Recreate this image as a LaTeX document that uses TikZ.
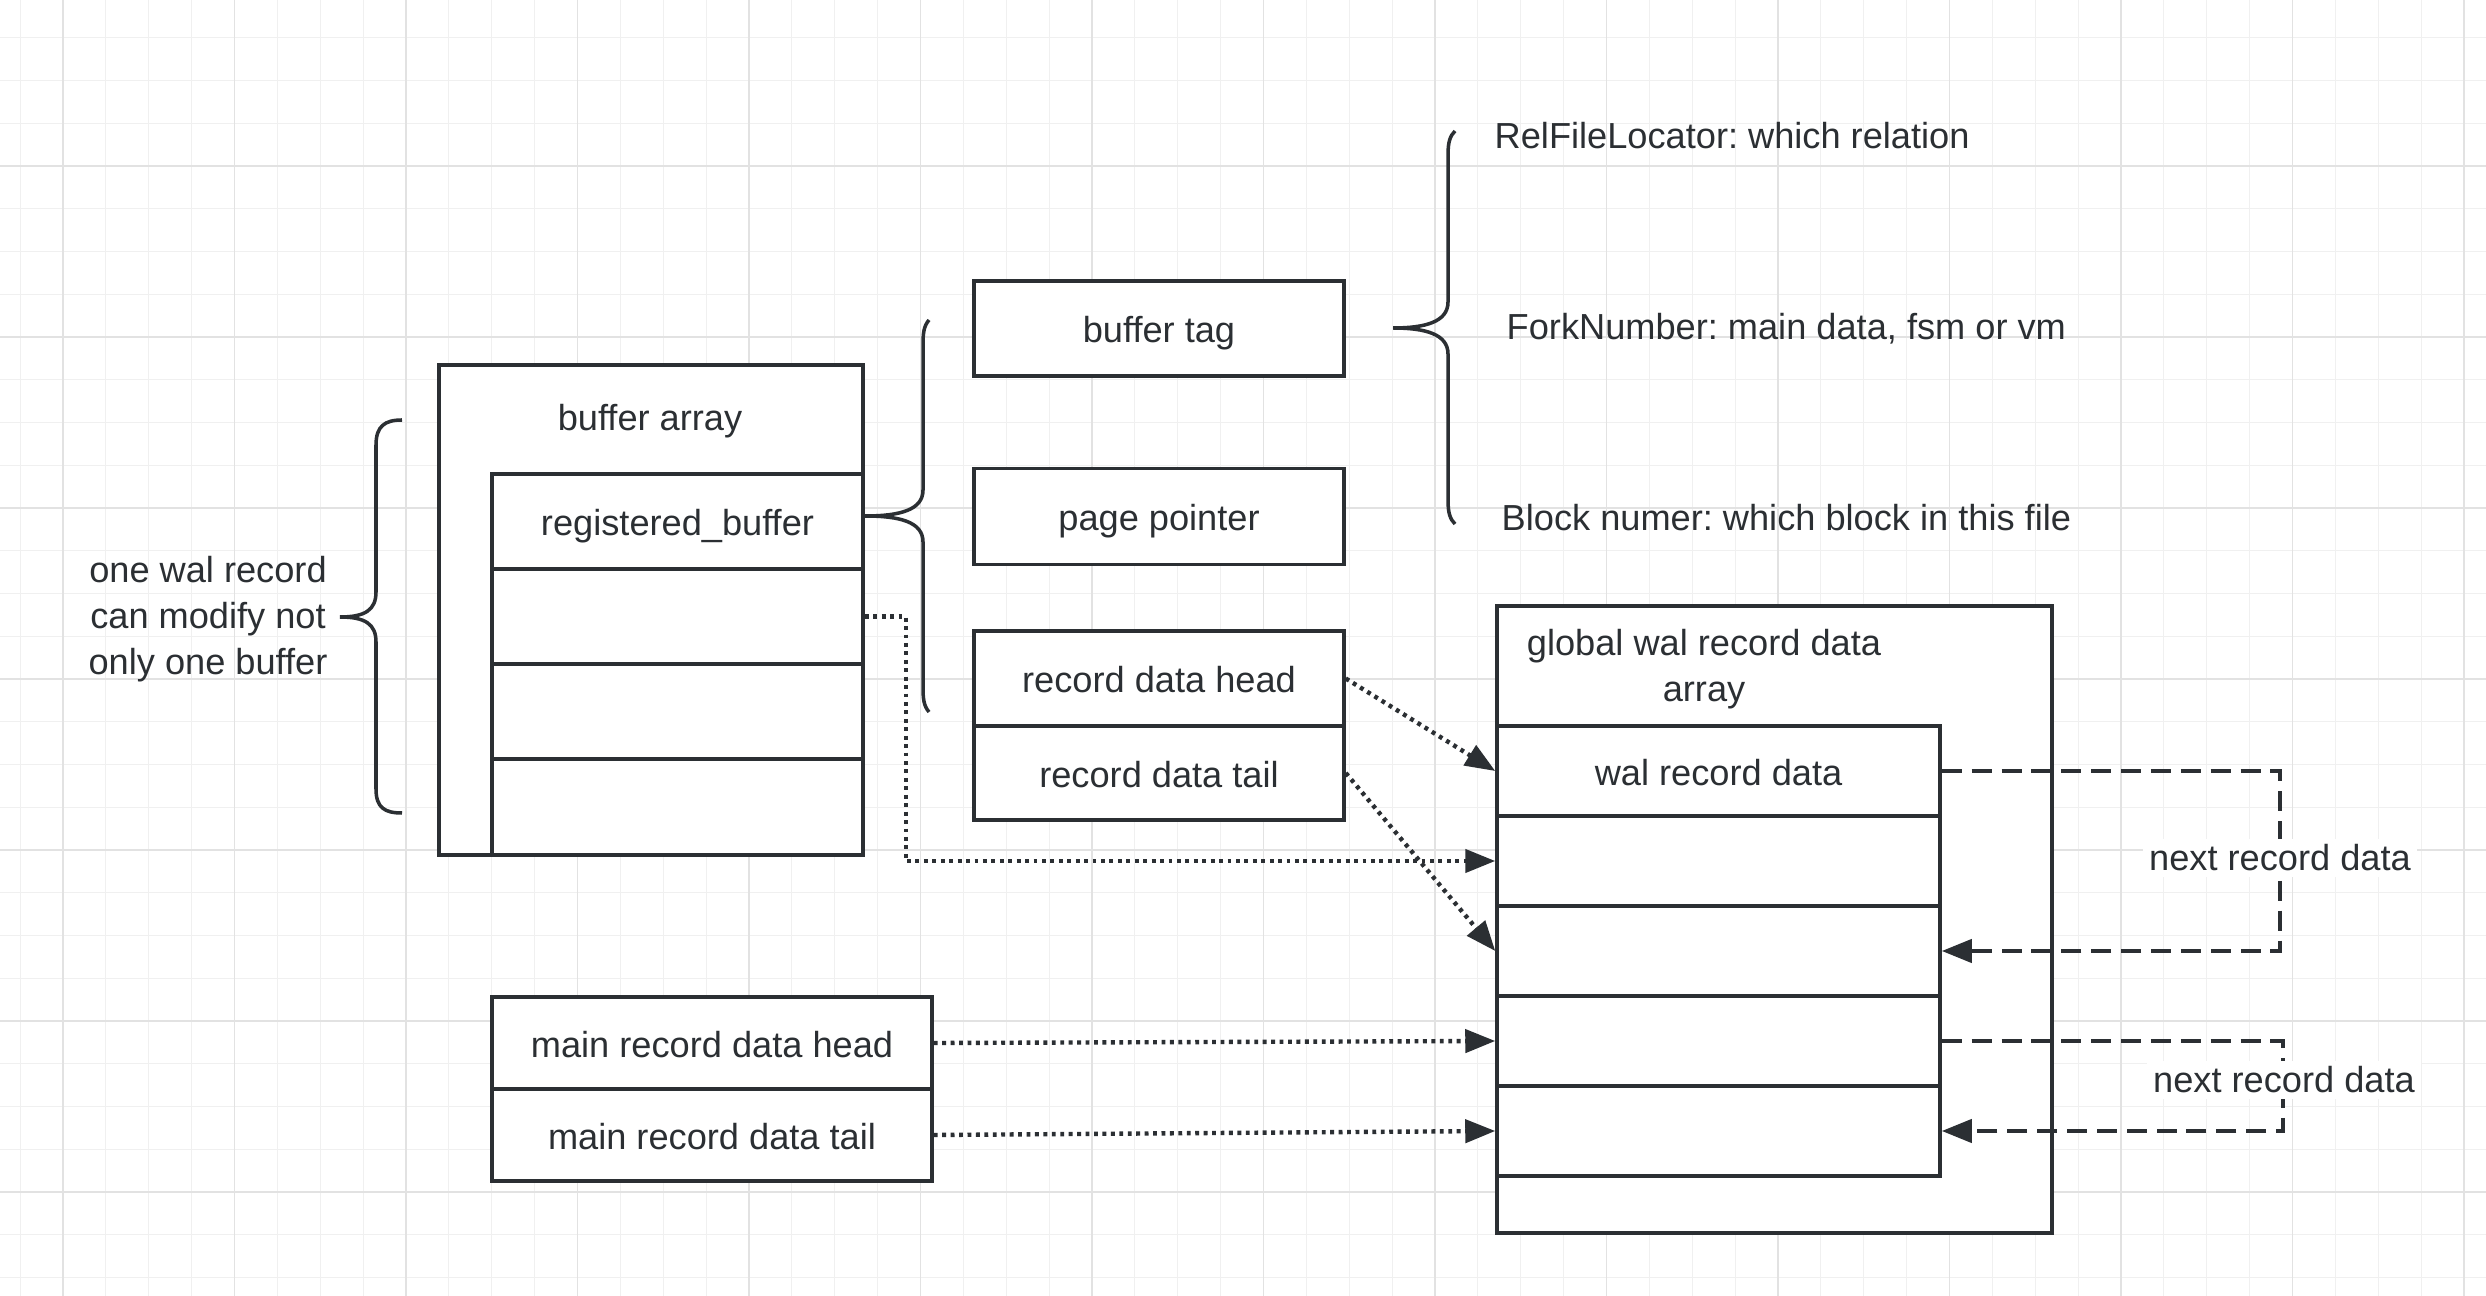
\documentclass[tikz,border=0pt]{standalone}
\usepackage{fontspec}
\setmainfont{Liberation Sans}
\usetikzlibrary{arrows.meta}

\definecolor{ink}{HTML}{2B2F33}
\definecolor{gridfaint}{HTML}{F0F0F0}
\definecolor{gridstrong}{HTML}{E2E2E2}

\begin{document}
\frenchspacing
\begin{tikzpicture}[x=0.1mm, y=-0.1mm,
    every node/.style={text=ink, font=\fontsize{10.3}{13.1}\selectfont},
    cell/.style={rectangle, draw=ink, fill=white, line width=1pt, inner sep=0pt, text height=9.8pt, text depth=1.8pt},
    ptr/.style={ink, line width=1.25pt, dash pattern=on 1.1pt off 1.3pt, -{Triangle[length=3mm, width=2.3mm]}},
    nextptr/.style={ink, line width=1.2pt, dash pattern=on 5.7pt off 2.8pt, -{Triangle[length=3mm, width=2.3mm]}},
    bracket/.style={ink, line width=1pt}]
    \useasboundingbox (0, 0) rectangle (2486, 1296);
    \fill [white] (0, 0) rectangle (2486, 1296);

    % canvas grid
    \foreach \i in {-1,...,56} \draw [gridfaint, line width=0.3pt] ({63+42.875*\i}, 0) -- ({63+42.875*\i}, 1296);
    \foreach \i in {-3,...,26} \draw [gridfaint, line width=0.3pt] (0, {166+42.75*\i}) -- (2486, {166+42.75*\i});
    \foreach \i in {0,...,14} \draw [gridstrong, line width=0.45pt] ({63+171.5*\i}, 0) -- ({63+171.5*\i}, 1296);
    \foreach \i in {0,...,6} \draw [gridstrong, line width=0.45pt] (0, {166+171*\i}) -- (2486, {166+171*\i});

    % buffer array
    \node [cell, minimum width=42.4mm, minimum height=49mm] (bufarray) at (651, 610) {};
    \node (bufarraytitle) at (650, 421) {buffer array};
    \node [cell, minimum width=37.1mm, minimum height=9.5mm] (buf1) at (677.5, 521.5) {registered\_buffer};
    \node [cell, minimum width=37.1mm, minimum height=9.5mm] (buf2) at (677.5, 616.5) {};
    \node [cell, minimum width=37.1mm, minimum height=9.5mm] (buf3) at (677.5, 711.5) {};
    \node [cell, minimum width=37.1mm, minimum height=9.6mm] (buf4) at (677.5, 807) {};
    \node [align=center] (onewal) at (208, 619) {one wal record\\can modify not\\only one buffer};

    % registered buffer fields
    \node [cell, minimum width=37mm, minimum height=9.5mm] (buftag) at (1159, 328.5) {buffer tag};
    \node [cell, minimum width=37mm, minimum height=9.6mm] (pageptr) at (1159, 516.5) {page pointer};
    \node [cell, minimum width=37mm, minimum height=9.5mm] (rechead) at (1159, 678.5) {record data head};
    \node [cell, minimum width=37mm, minimum height=9.4mm] (rectail) at (1159, 773) {record data tail};

    % buffer tag fields
    \node [anchor=west, inner sep=0pt] (relfile) at (1494, 136) {RelFileLocator: which relation};
    \node [anchor=west, inner sep=0pt] (forknum) at (1506, 329) {ForkNumber: main data, fsm or vm};
    \node [anchor=west, inner sep=0pt] (blocknum) at (1501, 518) {Block numer: which block in this file};

    % main record data
    \node [cell, minimum width=44mm, minimum height=9.2mm] (mainhead) at (712, 1043) {main record data head};
    \node [cell, minimum width=44mm, minimum height=9.2mm] (maintail) at (712, 1135) {main record data tail};

    % global wal record data array
    \node [cell, minimum width=55.5mm, minimum height=62.7mm] (walarray) at (1774.5, 919.5) {};
    \node [align=center] (walarraytitle) at (1704, 669) {global wal record data\\array};
    \node [cell, minimum width=44.3mm, minimum height=9mm] (wal1) at (1718.5, 771) {wal record data};
    \node [cell, minimum width=44.3mm, minimum height=9mm] (wal2) at (1718.5, 861) {};
    \node [cell, minimum width=44.3mm, minimum height=9mm] (wal3) at (1718.5, 951) {};
    \node [cell, minimum width=44.3mm, minimum height=9mm] (wal4) at (1718.5, 1041) {};
    \node [cell, minimum width=44.3mm, minimum height=9mm] (wal5) at (1718.5, 1131) {};

    % braces
    \draw [bracket] (402, 420) .. controls (385, 420) and (376, 426) .. (376, 445) -- (376, 592)
        .. controls (376, 610) and (365, 617) .. (340, 617) .. controls (365, 617) and (376, 624) .. (376, 642)
        -- (376, 789) .. controls (376, 808) and (385, 813) .. (402, 813);
    \draw [bracket] (929, 320) .. controls (924, 326) and (923, 332) .. (923, 345) -- (923, 490)
        .. controls (923, 510) and (900, 516) .. (865, 516) .. controls (900, 516) and (923, 522) .. (923, 542)
        -- (923, 687) .. controls (923, 700) and (924, 706) .. (929, 712);
    \draw [bracket] (1455, 131) .. controls (1450, 136) and (1448, 142) .. (1448, 155) -- (1448, 302)
        .. controls (1448, 322) and (1425, 328) .. (1393, 328) .. controls (1425, 328) and (1448, 334) .. (1448, 354)
        -- (1448, 500) .. controls (1448, 513) and (1450, 519) .. (1455, 524);

    % pointers into the global array
    \draw [ptr] (rechead.east) -- (wal1.west);
    \draw [ptr] (rectail.east) -- (wal3.west);
    \draw [ptr] (buf2.east) -- ++(41, 0) |- (wal2.west);
    \draw [ptr] (mainhead.east) -- (wal4.west);
    \draw [ptr] (maintail.east) -- (wal5.west);

    % next record links
    \coordinate (loop1) at (2280, 771);
    \coordinate (loop2) at (2283, 1041);
    \draw [nextptr] (wal1.east) -- (loop1) |- (wal3.east);
    \draw [nextptr] (wal4.east) -- (loop2) |- (wal5.east);
    \node [fill=white, inner sep=0.6mm] (next1) at (2280, 858) {next record data};
    \node [fill=white, inner sep=0.6mm] (next2) at (2284, 1080) {next record data};
\end{tikzpicture}
\end{document}
